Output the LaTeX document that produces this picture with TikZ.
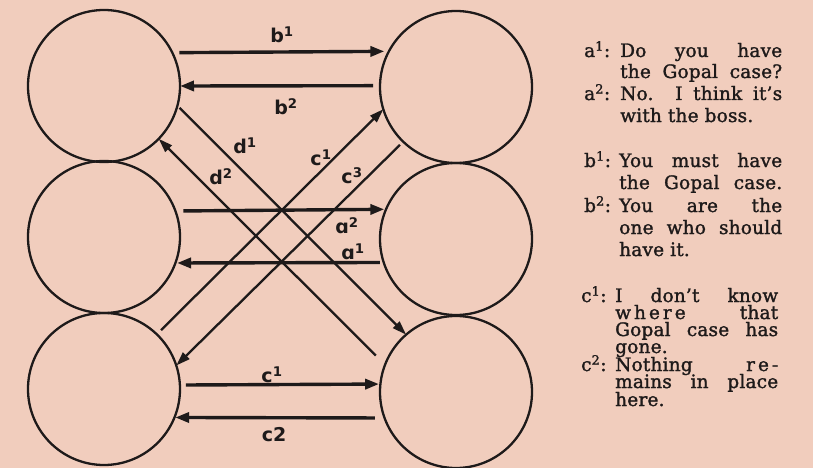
\documentclass[tikz,border=0pt]{standalone}
\usepackage{fontspec}
\setmainfont{DejaVu Serif}
\newfontfamily\labelfont{DejaVu Sans}
\newfontfamily\glossfont{DejaVu Serif}[FakeBold=1.5, LetterSpace=1]
\usetikzlibrary{arrows.meta}

\definecolor{paper}{RGB}{241,205,189}
\definecolor{ink}{RGB}{30,26,26}

\begin{document}
\begin{tikzpicture}[x=1pt,y=-1pt,
  person/.style={circle, draw=ink, line width=2.3pt, minimum size=152pt,
                 inner sep=0pt, outer sep=0pt},
  msg/.style={draw=ink, line width=3.4pt, -{Triangle[length=14pt,width=10pt]}},
  slant/.style={draw=ink, line width=2.3pt, -{Triangle[length=14pt,width=9pt]}},
  lab/.style={font=\labelfont\bfseries\fontsize{19}{19}\selectfont,
              text=ink, inner sep=0pt},
  gloss/.style={font=\glossfont\fontsize{18.5}{18.5}\selectfont,
                text=ink, anchor=base west, inner sep=0pt}]

% page
\fill[paper] (0,0) rectangle (813,468);
\useasboundingbox (0,0) rectangle (813,468);

% the six ego states
\node[person] (TL) at (104,86)  {};
\node[person] (ML) at (104,237) {};
\node[person] (BL) at (104,389) {};
\node[person] (TR) at (456,87)  {};
\node[person] (MR) at (456,239) {};
\node[person] (BR) at (456,392) {};

% horizontal transactions
\draw[msg, shorten <=7pt,   shorten >=4.5pt]  (TL.26.58) -- (TR.152.58);
\draw[msg, shorten <=7pt]                     (TR.179.25) -- (TL.0);
\draw[msg, shorten <=8pt,   shorten >=1.7pt]  (ML.20.81) -- (MR.157.57);
\draw[msg, shorten <=3.9pt, shorten >=1.6pt]  (MR.198.41) -- (ML.-20);
\draw[msg, shorten <=6pt,   shorten >=1.3pt]  (BL.3.02) -- (BR.174.72);
\draw[msg, shorten <=9.6pt, shorten >=0.7pt]  (BR.200) -- (BL.-22.43);

% crossed transactions
\draw[slant, shorten <=3pt]   (TL.-15.4) -- (BR.131);
\draw[slant, shorten <=13pt]  (BR.159)   -- (TL.-44.5);
\draw[slant, shorten <=6pt]   (BL.46)    -- (TR.197.3);
\draw[slant, shorten <=4.5pt] (TR.226)   -- (BL.18);

% arrow labels
\node[lab] (lb1) at (282,35)  {b\textsuperscript{1}};
\node[lab] (lb2) at (286,107) {b\textsuperscript{2}};
\node[lab] (ld1) at (245,146) {d\textsuperscript{1}};
\node[lab] (ld2) at (221,177) {d\textsuperscript{2}};
\node[lab] (lc1) at (321,158) {c\textsuperscript{1}};
\node[lab] (lc3) at (352,176) {c\textsuperscript{3}};
\node[lab] (la2) at (347,226) {ɑ\textsuperscript{2}};
\node[lab] (la1) at (353,252) {ɑ\textsuperscript{1}};
\node[lab] (lc1b) at (272,375) {c\textsuperscript{1}};
\node[lab] (lc2) at (274,435) {c2};

% glosses
\node[gloss] (ga1)  at (584,57)  {a\textsuperscript{1}:};
\node[gloss] (ga1a) at (620,57)  {\makebox[162pt][s]{Do you have}};
\node[gloss] (ga1b) at (620,78)  {\makebox[162pt][s]{the Gopal case?}};
\node[gloss] (ga2)  at (584,100) {a\textsuperscript{2}:};
\node[gloss] (ga2a) at (620,100) {\makebox[162pt][s]{No. I think it’s}};
\node[gloss] (ga2b) at (620,122) {with the boss.};

\node[gloss] (gb1)  at (584,167) {b\textsuperscript{1}:};
\node[gloss] (gb1a) at (619,167) {\makebox[163pt][s]{You must have}};
\node[gloss] (gb1b) at (619,189) {\makebox[163pt][s]{the Gopal case.}};
\node[gloss] (gb2)  at (584,212) {b\textsuperscript{2}:};
\node[gloss] (gb2a) at (619,212) {\makebox[163pt][s]{You are the}};
\node[gloss] (gb2b) at (619,234) {\makebox[163pt][s]{one who should}};
\node[gloss] (gb2c) at (619,256) {have it.};

\node[gloss] (gc1)  at (581,302) {c\textsuperscript{1}:};
\node[gloss] (gc1a) at (615,302) {\makebox[163pt][s]{I don’t know}};
\node[gloss] (gc1b) at (615,319) {\makebox[163pt][s]{w\kern3pt h\kern3pt e\kern3pt r\kern3pt e that}};
\node[gloss] (gc1c) at (615,336) {\makebox[163pt][s]{Gopal case has}};
\node[gloss] (gc1d) at (615,353) {gone.};
\node[gloss] (gc2)  at (581,371) {c\textsuperscript{2}:};
\node[gloss] (gc2a) at (615,371) {\makebox[163pt][s]{Nothing r\kern3pt e\kern3pt -}};
\node[gloss] (gc2b) at (615,388) {\makebox[163pt][s]{mains in place}};
\node[gloss] (gc2c) at (615,406) {here.};
\end{tikzpicture}
\end{document}
